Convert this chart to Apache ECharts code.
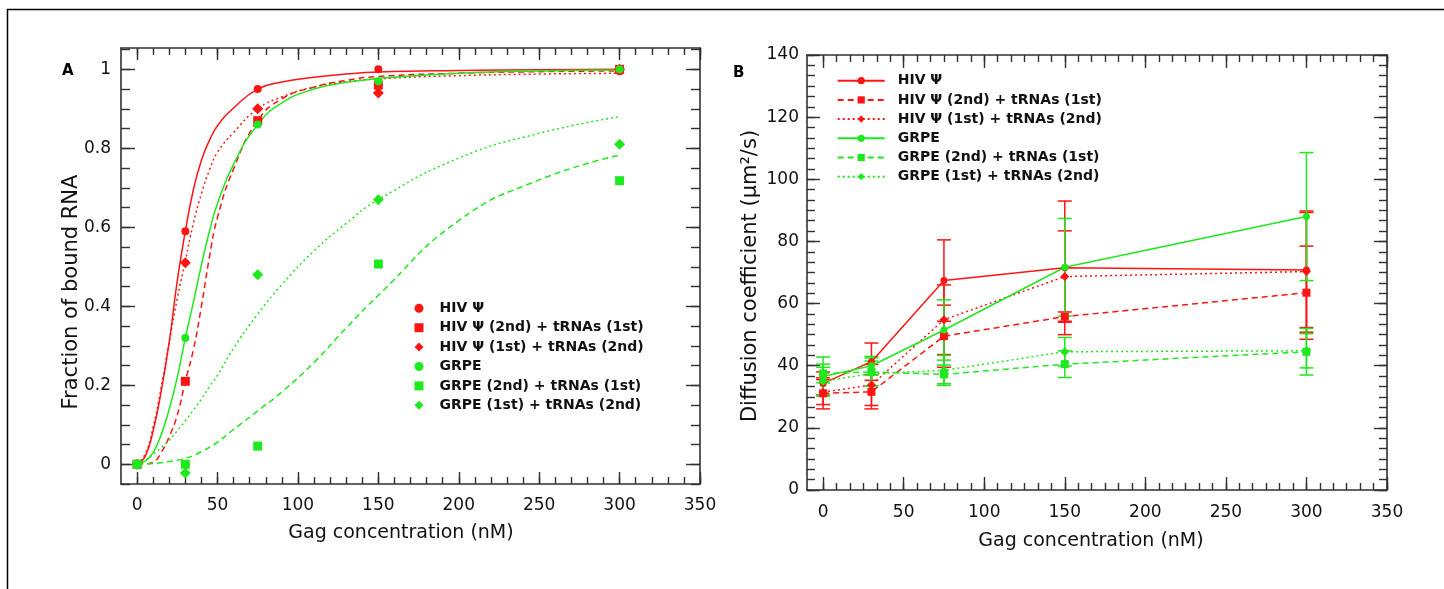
<!DOCTYPE html>
<html><head><meta charset="utf-8">
<script src="https://cdn.jsdelivr.net/npm/echarts@6/dist/echarts.min.js"></script>
<style>html,body{margin:0;padding:0;background:#fff;} #c{width:1444px;height:589px;}</style>
</head><body><div id="c"></div>
<script>
// ---------- labels ----------
const seriesLabels = ['HIV Ψ', 'HIV Ψ (2nd) + tRNAs (1st)', 'HIV Ψ (1st) + tRNAs (2nd)', 'GRPE', 'GRPE (2nd) + tRNAs (1st)', 'GRPE (1st) + tRNAs (2nd)'];
const xTickLabels = [0, 50, 100, 150, 200, 250, 300, 350];
const yTickLabelsA = [0, 0.2, 0.4, 0.6, 0.8, 1];
const yTickLabelsB = [0, 20, 40, 60, 80, 100, 120, 140];

// ---------- panel A: measured points ----------
const gagA = [0, 30, 75, 150, 300];
const boundHiv      = [0, 0.59, 0.95, 1.00, 0.995];
const boundHiv2nd   = [0, 0.21, 0.87, 0.96, 1.00];
const boundHiv1st   = [0, 0.51, 0.90, 0.94, 1.00];
const boundGrpe     = [0, 0.32, 0.86, 0.97, 1.00];
const boundGrpe2nd  = [0, 0.00, 0.046, 0.507, 0.718];
const boundGrpe1st  = [0, -0.022, 0.48, 0.67, 0.81];

// ---------- panel A: fitted curves ----------
const fitX        = [0, 5, 10, 15, 20, 25, 30, 35, 40, 45, 50, 60, 75, 90, 110, 130, 150, 200, 250, 300];
const fitHiv      = [0, 0.02, 0.085, 0.185, 0.31, 0.465, 0.59, 0.695, 0.77, 0.82, 0.857, 0.902, 0.95, 0.968, 0.98, 0.988, 0.993, 0.997, 0.999, 1.0];
const fitHiv2nd   = [0, 0.001, 0.005, 0.03, 0.07, 0.125, 0.21, 0.29, 0.40, 0.525, 0.625, 0.748, 0.87, 0.925, 0.955, 0.972, 0.982, 0.99, 0.994, 0.996];
const fitHiv1st   = [0, 0.025, 0.095, 0.195, 0.31, 0.42, 0.515, 0.61, 0.685, 0.745, 0.79, 0.84, 0.90, 0.93, 0.955, 0.968, 0.976, 0.984, 0.988, 0.99];
const fitGrpe     = [0, 0.008, 0.03, 0.075, 0.14, 0.22, 0.32, 0.41, 0.505, 0.59, 0.66, 0.76, 0.86, 0.915, 0.95, 0.967, 0.977, 0.99, 0.996, 0.998];
const fitGrpe2nd  = [0, 0.001, 0.002, 0.004, 0.007, 0.01, 0.015, 0.022, 0.032, 0.043, 0.056, 0.088, 0.135, 0.183, 0.258, 0.345, 0.428, 0.617, 0.72, 0.783];
const fitGrpe1st  = [0, 0.01, 0.025, 0.042, 0.061, 0.085, 0.11, 0.137, 0.165, 0.197, 0.225, 0.294, 0.38, 0.455, 0.54, 0.61, 0.67, 0.775, 0.838, 0.88];

// ---------- panel B: diffusion coefficients ----------
const gagB = [0, 30, 75, 150, 300];
const dHiv        = [34.3, 41.3, 67.4, 71.5, 70.8];
const dHivErr     = [3.7, 6.0, 13.1, 21.5, 18.5];
const dHiv2nd     = [31.1, 31.6, 49.5, 55.8, 63.5];
const dHiv2ndErr  = [5.0, 5.5, 10.0, 1.5, 15.0];
const dHiv1st     = [31.5, 33.8, 54.8, 68.7, 70.3];
const dHiv1stErr  = [4.0, 6.6, 11.2, 14.7, 19.5];
const dGrpe       = [36.5, 40.0, 51.5, 71.7, 88.0];
const dGrpeErr    = [6.3, 3.0, 9.7, 15.7, 20.6];
const dGrpe2nd    = [37.5, 38.0, 37.2, 40.5, 44.5];
const dGrpe2ndErr = [3.0, 4.5, 3.0, 4.3, 7.5];
const dGrpe1st    = [35.0, 37.5, 38.5, 44.5, 44.8];
const dGrpe1stErr = [4.5, 4.0, 4.8, 4.6, 5.5];

// ---------- styling ----------
const RED = '#ff1414';
const GREEN = '#1ee81e';
const AX = '#303030';
const FONT = 'DejaVu Sans';
const colors = [RED, RED, RED, GREEN, GREEN, GREEN];
const symbols = ['circle', 'rect', 'diamond', 'circle', 'rect', 'diamond'];
const symSizeA = [8, 9, 11, 8, 9, 11];
const symSizeB = [7, 8, 9, 7, 8, 9];
const dashes = ['solid', [6, 4], [2, 3], 'solid', [6, 4], [2, 3]];

function range(a, b, step) { const r = []; for (let v = a; v <= b + 1e-9; v += step) r.push(+v.toFixed(6)); return r; }
const minorXA = range(0, 350, 10);
const minorYA = range(-0.05, 1.05, 0.05);
const minorXB = range(0, 350, 50 / 6);
const minorYB = range(0, 140, 20 / 6);

function axisSet(kind, grid, min, max, majors, minors, labels, margin, majLen, minLen) {
  const posA = kind === 'x' ? 'bottom' : 'left';
  const posB = kind === 'x' ? 'top' : 'right';
  const line = { show: true, onZero: false, lineStyle: { color: AX, width: 1.6 } };
  const noLine = { show: false, onZero: false };
  const tickStyle = { color: AX, width: 1.4 };
  const base = { gridIndex: grid, type: 'value', min, max, splitLine: { show: false }, silent: true };
  return [
    Object.assign({}, base, { position: posA, axisLine: line,
      axisTick: { show: true, inside: true, length: majLen, customValues: majors, lineStyle: tickStyle },
      axisLabel: { show: true, customValues: labels, margin, color: '#111', fontSize: 17, fontFamily: FONT } }),
    Object.assign({}, base, { position: posA, axisLine: noLine,
      axisTick: { show: true, inside: true, length: minLen, customValues: minors, lineStyle: tickStyle },
      axisLabel: { show: false } }),
    Object.assign({}, base, { position: posB, axisLine: line,
      axisTick: { show: true, inside: true, length: majLen, customValues: majors, lineStyle: tickStyle },
      axisLabel: { show: false } }),
    Object.assign({}, base, { position: posB, axisLine: noLine,
      axisTick: { show: true, inside: true, length: minLen, customValues: minors, lineStyle: tickStyle },
      axisLabel: { show: false } })
  ];
}

const xAxes = axisSet('x', 0, -10, 350, xTickLabels, minorXA, xTickLabels, 13, 12, 7)
  .concat(axisSet('x', 1, -10, 350, xTickLabels, minorXB, xTickLabels, 14, 13, 7));
const yAxes = axisSet('y', 0, -0.05, 1.054, yTickLabelsA, minorYA, yTickLabelsA, 10, 14, 9)
  .concat(axisSet('y', 1, 0, 140, yTickLabelsB, minorYB, yTickLabelsB, 8, 13, 8));

const pointsA = [boundHiv, boundHiv2nd, boundHiv1st, boundGrpe, boundGrpe2nd, boundGrpe1st];
const fitsA = [fitHiv, fitHiv2nd, fitHiv1st, fitGrpe, fitGrpe2nd, fitGrpe1st];
const valsB = [dHiv, dHiv2nd, dHiv1st, dGrpe, dGrpe2nd, dGrpe1st];
const errsB = [dHivErr, dHiv2ndErr, dHiv1stErr, dGrpeErr, dGrpe2ndErr, dGrpe1stErr];

const series = [];
// fits (panel A)
fitsA.forEach((f, i) => {
  series.push({ name: 'fit' + i, type: 'line', xAxisIndex: 0, yAxisIndex: 0, smooth: 0.5,
    showSymbol: false, symbol: 'none', silent: true, z: 2,
    lineStyle: { color: colors[i], width: 1.5, type: dashes[i] },
    data: fitX.map((x, k) => [x, f[k]]) });
});
// points (panel A)
pointsA.forEach((p, i) => {
  series.push({ name: 'A' + i, type: 'scatter', xAxisIndex: 0, yAxisIndex: 0, symbol: symbols[i], symbolSize: symSizeA[i],
    itemStyle: { color: colors[i], opacity: 1 }, z: 3, silent: true,
    data: gagA.map((x, k) => [x, p[k]]) });
});
// panel B error bars + lines
valsB.forEach((v, i) => {
  const col = colors[i];
  series.push({ name: 'err' + i, type: 'custom', xAxisIndex: 4, yAxisIndex: 4, z: 2, silent: true,
    encode: { x: 0, y: [1, 2] },
    data: gagB.map((x, k) => [x, v[k] - errsB[i][k], v[k] + errsB[i][k]]),
    renderItem: function (params, api) {
      const x = api.value(0);
      const p1 = api.coord([x, api.value(2)]);
      const p2 = api.coord([x, api.value(1)]);
      const w = 7;
      const st = { stroke: col, lineWidth: 1.5 };
      return { type: 'group', children: [
        { type: 'line', shape: { x1: p1[0], y1: p1[1], x2: p2[0], y2: p2[1] }, style: st },
        { type: 'line', shape: { x1: p1[0] - w, y1: p1[1], x2: p1[0] + w, y2: p1[1] }, style: st },
        { type: 'line', shape: { x1: p2[0] - w, y1: p2[1], x2: p2[0] + w, y2: p2[1] }, style: st }
      ] };
    } });
  series.push({ name: 'B' + i, type: 'line', xAxisIndex: 4, yAxisIndex: 4, symbol: symbols[i], symbolSize: symSizeB[i],
    showSymbol: true, z: 3, silent: true,
    lineStyle: { color: col, width: 1.5, type: dashes[i] },
    itemStyle: { color: col, borderWidth: 0 },
    data: gagB.map((x, k) => [x, v[k]]) });
});

const legendText = { fontFamily: FONT, fontSize: 14, fontWeight: 'bold', color: '#111' };
const option = {
  animation: false,
  backgroundColor: '#fff',
  grid: [
    { left: 121, top: 48, width: 579, height: 436, outerBoundsMode: 'none', containLabel: false },
    { left: 807, top: 55, width: 580, height: 435, outerBoundsMode: 'none', containLabel: false }
  ],
  xAxis: xAxes,
  yAxis: yAxes,
  legend: [
    { data: ['A0', 'A1', 'A2', 'A3', 'A4', 'A5'], orient: 'vertical', left: 414.5, top: 298.6, padding: 0,
      itemWidth: 9, itemHeight: 9, itemGap: 0, selectedMode: false,
      formatter: n => seriesLabels[+n.slice(1)],
      textStyle: Object.assign({ lineHeight: 19.4, padding: [0, 0, 0, 11] }, legendText) },
    { data: ['B0', 'B1', 'B2', 'B3', 'B4', 'B5'], orient: 'vertical', left: 836.7, top: 71.1, padding: 0,
      itemWidth: 47, itemHeight: 9, itemGap: 0, selectedMode: false,
      formatter: n => seriesLabels[+n.slice(1)],
      textStyle: Object.assign({ lineHeight: 19.2, padding: [0, 0, 0, 8] }, legendText) }
  ],
  graphic: [
    { type: 'line', shape: { x1: 7, y1: 9.5, x2: 1444, y2: 9.5 }, style: { stroke: '#000', lineWidth: 1.5 }, silent: true },
    { type: 'line', shape: { x1: 7.5, y1: 9, x2: 7.5, y2: 589 }, style: { stroke: '#000', lineWidth: 1.5 }, silent: true },
    { type: 'text', left: 62, top: 64, style: { text: 'A', font: 'bold 15px "DejaVu Sans"', fill: '#000' } },
    { type: 'text', left: 733, top: 66, style: { text: 'B', font: 'bold 15px "DejaVu Sans"', fill: '#000' } },
    { type: 'text', x: 401, y: 533, style: { text: 'Gag concentration (nM)', font: '19px "DejaVu Sans"', fill: '#111', align: 'center', verticalAlign: 'middle' } },
    { type: 'text', x: 1091, y: 541, style: { text: 'Gag concentration (nM)', font: '19px "DejaVu Sans"', fill: '#111', align: 'center', verticalAlign: 'middle' } },
    { type: 'text', x: 72, y: 292, rotation: Math.PI / 2, style: { text: 'Fraction of bound RNA', font: '21px "DejaVu Sans"', fill: '#111', align: 'center', verticalAlign: 'middle' } },
    { type: 'text', x: 751, y: 276, rotation: Math.PI / 2, style: { text: 'Diffusion coefficient (μm²/s)', font: '21px "DejaVu Sans"', fill: '#111', align: 'center', verticalAlign: 'middle' } }
  ],
  series
};
const chart = echarts.init(document.getElementById('c'), null, { renderer: 'canvas' });
chart.setOption(option);
</script></body></html>
